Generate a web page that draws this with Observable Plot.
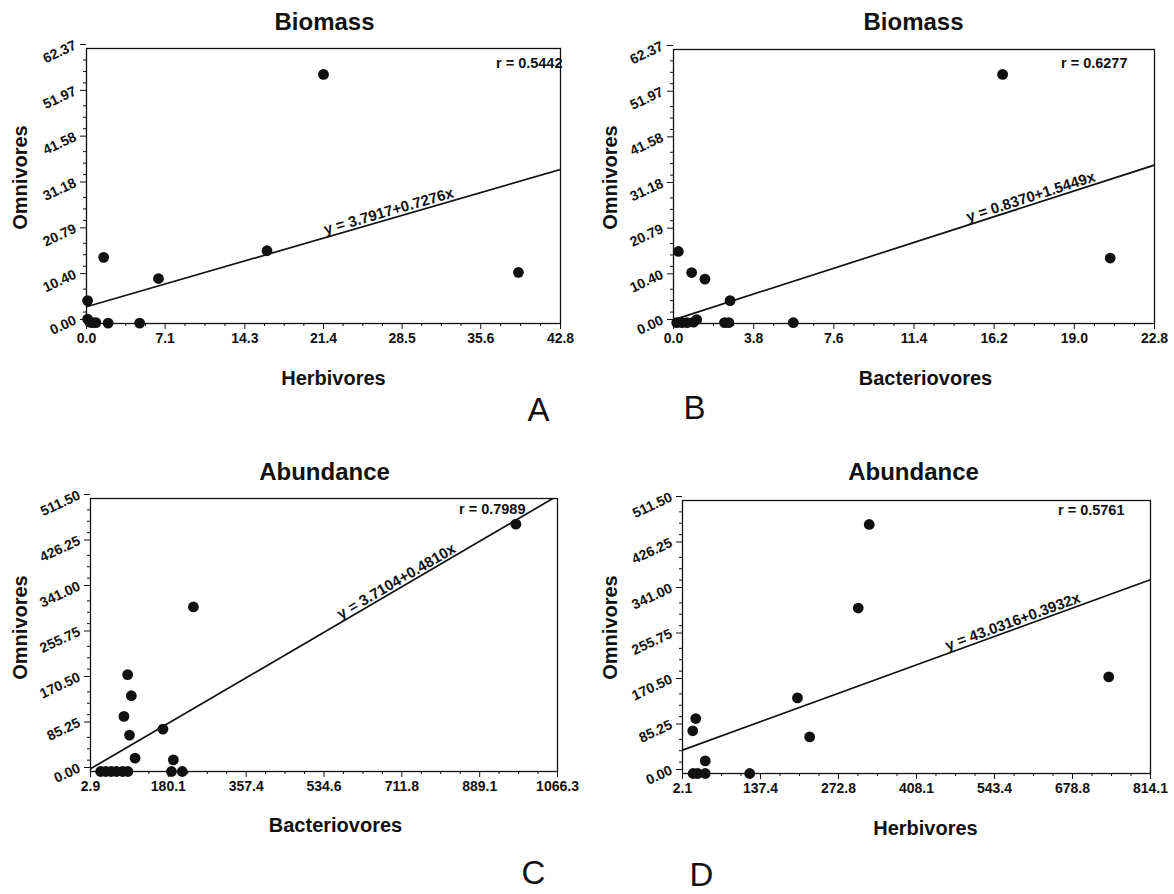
<!DOCTYPE html>
<html><head><meta charset="utf-8">
<script src="https://cdn.jsdelivr.net/npm/d3@7"></script>
<script src="https://cdn.jsdelivr.net/npm/@observablehq/plot@0.6"></script>
<style>
html,body{margin:0;padding:0;background:#fff;}
#root{position:relative;width:1174px;height:894px;background:#fff;overflow:hidden;}
#root svg{position:absolute;}
</style></head><body><div id="root"></div>
<script>
// ---------- data ----------
const titles = ["Biomass", "Biomass", "Abundance", "Abundance"];
const xAxisLabels = ["Herbivores", "Bacteriovores", "Bacteriovores", "Herbivores"];
const yAxisLabel = "Omnivores";
const letters = ["A", "B", "C", "D"];
const rLabels = ["r = 0.5442", "r = 0.6277", "r = 0.7989", "r = 0.5761"];
const eqLabels = ["y = 3.7917+0.7276x", "y = 0.8370+1.5449x", "y = 3.7104+0.4810x", "y = 43.0316+0.3932x"];
const intercepts = [3.7917, 0.8370, 3.7104, 43.0316];
const slopes = [0.7276, 1.5449, 0.4810, 0.3932];
const eqX = [27.4, 17.0, 705, 578];

const xTicksA = [0, 7.1, 14.3, 21.4, 28.5, 35.6, 42.8];
const xTickTextA = ["0.0", "7.1", "14.3", "21.4", "28.5", "35.6", "42.8"];
const xTicksB = [0, 3.8, 7.6, 11.4, 15.2, 19.0, 22.8];
const xTickTextB = ["0.0", "3.8", "7.6", "11.4", "16.2", "19.0", "22.8"];
const xTicksC = [2.9, 180.1, 357.4, 534.6, 711.8, 889.1, 1066.3];
const xTickTextC = ["2.9", "180.1", "357.4", "534.6", "711.8", "889.1", "1066.3"];
const xTicksD = [2.1, 137.4, 272.8, 408.1, 543.4, 678.8, 814.1];
const xTickTextD = ["2.1", "137.4", "272.8", "408.1", "543.4", "678.8", "814.1"];
const yTicksBiomass = [0, 10.40, 20.79, 31.18, 41.58, 51.97, 62.37];
const yTickTextBiomass = ["0.00", "10.40", "20.79", "31.18", "41.58", "51.97", "62.37"];
const yTicksAbund = [0, 85.25, 170.50, 255.75, 341.00, 426.25, 511.50];
const yTickTextAbund = ["0.00", "85.25", "170.50", "255.75", "341.00", "426.25", "511.50"];

// A: Biomass, Herbivores vs Omnivores
const xA = [21.4, 1.55, 6.5, 16.3, 39.0, 0.1, 0.1, 0.3, 0.55, 0.85, 1.95, 4.8];
const yA = [56.5, 15.0, 10.2, 16.5, 11.6, 5.2, 1.0, 0.3, 0.2, 0.2, 0.1, 0.1];
// B: Biomass, Bacteriovores vs Omnivores
const xB = [15.6, 20.7, 0.23, 0.86, 1.49, 2.68, 0.15, 0.4, 0.65, 0.95, 1.1, 2.42, 2.62, 5.68];
const yB = [56.7, 14.9, 16.4, 11.6, 10.1, 5.2, 0.2, 0.2, 0.2, 0.3, 0.9, 0.2, 0.2, 0.2];
// C: Abundance, Bacteriovores vs Omnivores
const xC = [971.6, 237.2, 87.5, 95.9, 79.0, 91.7, 104.4, 167.9, 191.6, 187.3, 211.9, 26, 38, 50, 62, 76, 88];
const yC = [463.4, 308.3, 181.4, 142.0, 103.2, 68.2, 25.0, 79.4, 21.9, 0, 0, 0, 0, 0, 0, 0, 0];
// D: Abundance, Herbivores vs Omnivores
const xD = [326.1, 307.0, 741.6, 201.6, 222.7, 25.1, 19.9, 41.6, 20.5, 28.4, 41.6, 118.7];
const yD = [466.6, 310.0, 181.0, 141.6, 68.6, 103.0, 80.0, 23.7, 0, 0, 0, 0];

// ---------- layout (page coordinates) ----------
const FONT = "'Liberation Sans', Arial, Helvetica, sans-serif";
const INK = "#111";
const layout = [
  {svgLeft: 0,   svgTop: 0,   w: 587, h: 440, fl: 86,  fr: 560,  ft: 48,  fb: 323,
   title: [324, 22], xlab: [333, 378], ylab: [20, 177], letter: [538, 410], r: [562, 63]},
  {svgLeft: 587, svgTop: 0,   w: 587, h: 440, fl: 673, fr: 1154, ft: 49,  fb: 323,
   title: [913, 22], xlab: [925, 378], ylab: [610, 177], letter: [694, 408], r: [1127, 63]},
  {svgLeft: 0,   svgTop: 440, w: 587, h: 454, fl: 90,  fr: 557,  ft: 498, fb: 771,
   title: [324, 472], xlab: [335, 825], ylab: [20, 627], letter: [533, 873], r: [525, 509]},
  {svgLeft: 587, svgTop: 440, w: 587, h: 454, fl: 682, fr: 1150, ft: 500, fb: 773,
   title: [913, 472], xlab: [925, 828], ylab: [610, 627], letter: [701, 875], r: [1124, 510]}
];

const panels = [
  {xs: xA, ys: yA, xt: xTicksA, xtt: xTickTextA, yt: yTicksBiomass, ytt: yTickTextBiomass},
  {xs: xB, ys: yB, xt: xTicksB, xtt: xTickTextB, yt: yTicksBiomass, ytt: yTickTextBiomass},
  {xs: xC, ys: yC, xt: xTicksC, xtt: xTickTextC, yt: yTicksAbund, ytt: yTickTextAbund},
  {xs: xD, ys: yD, xt: xTicksD, xtt: xTickTextD, yt: yTicksAbund, ytt: yTickTextAbund}
];

function minor(ticks) {
  const out = [];
  for (let i = 0; i < ticks.length - 1; i++) {
    for (let k = 1; k < 4; k++) out.push(ticks[i] + (ticks[i + 1] - ticks[i]) * k / 4);
  }
  return out;
}

const root = document.getElementById("root");

panels.forEach((p, i) => {
  const L = layout[i];
  const marginLeft = L.fl - L.svgLeft;
  const marginRight = L.svgLeft + L.w - L.fr;
  const marginTop = L.ft - L.svgTop;
  const marginBottom = L.svgTop + L.h - L.fb;
  const at = (P) => ({frameAnchor: "top-left", dx: P[0] - L.fl, dy: P[1] - L.ft});

  const xmin = p.xt[0], xmax = p.xt[p.xt.length - 1];
  const ymax = p.yt[p.yt.length - 1];
  const xFmt = new Map(p.xt.map((d, j) => [d, p.xtt[j]]));
  const yFmt = new Map(p.yt.map((d, j) => [d, p.ytt[j]]));
  const pts = p.xs.map((x, j) => ({x, y: p.ys[j]}));
  const a = intercepts[i], b = slopes[i];
  const fit = [xmin, xmax].map(x => ({x, y: a + b * x}));
  const sx = (L.fr - L.fl) / (xmax - xmin);
  const sy = (L.fb - L.ft) / ymax;
  const angle = -Math.atan(b * sy / sx) * 180 / Math.PI;

  const chart = Plot.plot({
    width: L.w, height: L.h,
    marginLeft, marginRight, marginTop, marginBottom,
    style: {fontFamily: FONT, background: "transparent", color: INK, overflow: "visible"},
    x: {domain: [xmin, xmax], label: null},
    y: {domain: [0, ymax], label: null},
    marks: [
      Plot.frame({stroke: INK, strokeWidth: 1.3}),
      Plot.axisX({ticks: minor(p.xt), tickSize: 3, tickFormat: () => "", label: null}),
      Plot.axisX({ticks: p.xt, tickSize: 6, tickPadding: 4, tickFormat: d => xFmt.get(d),
        fontSize: 14, fontWeight: "bold", label: null}),
      Plot.axisY({ticks: minor(p.yt), tickSize: 3, tickFormat: () => "", label: null}),
      Plot.axisY({ticks: p.yt, tickSize: 6, tickPadding: 5, tickRotate: -25, dy: -4,
        tickFormat: d => yFmt.get(d), fontSize: 14, fontWeight: "bold", label: null}),
      Plot.line(fit, {x: "x", y: "y", stroke: INK, strokeWidth: 1.7, clip: true}),
      Plot.dot(pts, {x: "x", y: "y", r: 5.4, fill: INK, stroke: null}),
      Plot.text([eqLabels[i]], {x: () => eqX[i], y: () => a + b * eqX[i], text: d => d,
        rotate: angle, textAnchor: "middle", lineAnchor: "bottom", dy: -3,
        fontSize: 15, fontWeight: "bold", fill: INK}),
      Plot.text([rLabels[i]], {...at(L.r), text: d => d, textAnchor: "end", lineAnchor: "middle",
        fontSize: 14.5, fontWeight: "bold", fill: INK}),
      Plot.text([titles[i]], {...at(L.title), text: d => d, textAnchor: "middle", lineAnchor: "middle",
        fontSize: 24, fontWeight: "bold", fill: INK}),
      Plot.text([xAxisLabels[i]], {...at(L.xlab), text: d => d, textAnchor: "middle", lineAnchor: "middle",
        fontSize: 20, fontWeight: "bold", fill: INK}),
      Plot.text([yAxisLabel], {...at(L.ylab), text: d => d, rotate: -90, textAnchor: "middle", lineAnchor: "middle",
        fontSize: 20, fontWeight: "bold", fill: INK}),
      Plot.text([letters[i]], {...at(L.letter), text: d => d, textAnchor: "middle", lineAnchor: "middle",
        fontSize: 33, fill: INK})
    ]
  });
  chart.style.left = L.svgLeft + "px";
  chart.style.top = L.svgTop + "px";
  root.appendChild(chart);
});
</script>
</body></html>
